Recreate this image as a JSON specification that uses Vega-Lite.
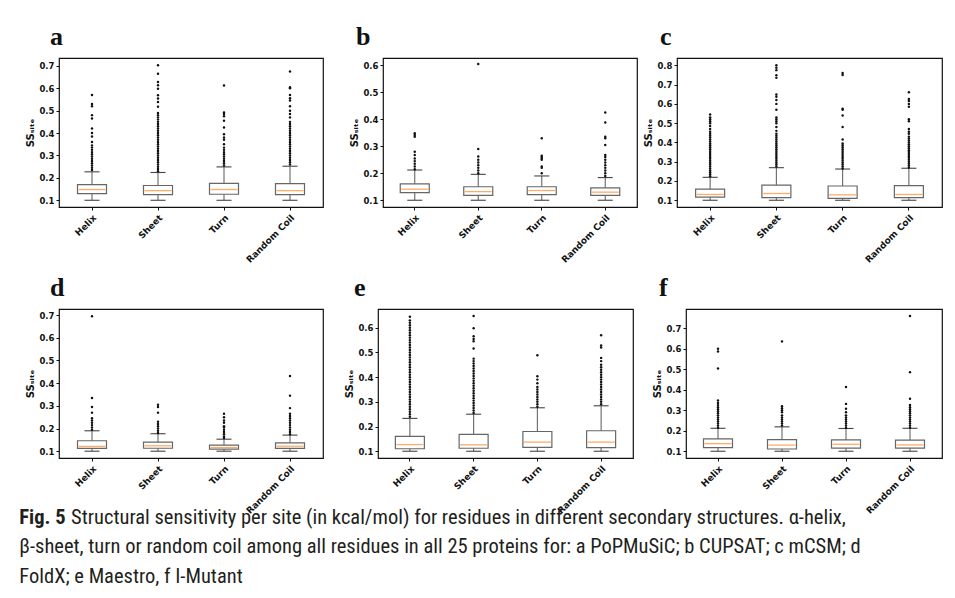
{
  "$schema": "https://vega.github.io/schema/vega-lite/v6.json",
  "padding": {"left": 19, "top": 23, "right": 5, "bottom": 5},
  "background": "white",
  "datasets": {
    "boxes": [
      {"p":"a","s":"Helix","lo":0.1,"q1":0.130,"med":0.148,"q3":0.170,"hi":0.227},
      {"p":"a","s":"Sheet","lo":0.1,"q1":0.125,"med":0.143,"q3":0.166,"hi":0.224},
      {"p":"a","s":"Turn","lo":0.1,"q1":0.127,"med":0.148,"q3":0.175,"hi":0.249},
      {"p":"a","s":"Random Coil","lo":0.1,"q1":0.125,"med":0.143,"q3":0.174,"hi":0.252},
      {"p":"b","s":"Helix","lo":0.1,"q1":0.128,"med":0.141,"q3":0.161,"hi":0.212},
      {"p":"b","s":"Sheet","lo":0.1,"q1":0.118,"med":0.132,"q3":0.150,"hi":0.196},
      {"p":"b","s":"Turn","lo":0.1,"q1":0.121,"med":0.136,"q3":0.150,"hi":0.190},
      {"p":"b","s":"Random Coil","lo":0.1,"q1":0.118,"med":0.130,"q3":0.146,"hi":0.184},
      {"p":"c","s":"Helix","lo":0.1,"q1":0.116,"med":0.130,"q3":0.158,"hi":0.219},
      {"p":"c","s":"Sheet","lo":0.1,"q1":0.114,"med":0.135,"q3":0.178,"hi":0.269},
      {"p":"c","s":"Turn","lo":0.1,"q1":0.110,"med":0.128,"q3":0.174,"hi":0.262},
      {"p":"c","s":"Random Coil","lo":0.1,"q1":0.114,"med":0.130,"q3":0.176,"hi":0.266},
      {"p":"d","s":"Helix","lo":0.1,"q1":0.112,"med":0.121,"q3":0.146,"hi":0.190},
      {"p":"d","s":"Sheet","lo":0.1,"q1":0.113,"med":0.124,"q3":0.140,"hi":0.177},
      {"p":"d","s":"Turn","lo":0.1,"q1":0.109,"med":0.116,"q3":0.127,"hi":0.153},
      {"p":"d","s":"Random Coil","lo":0.1,"q1":0.112,"med":0.122,"q3":0.137,"hi":0.171},
      {"p":"e","s":"Helix","lo":0.1,"q1":0.110,"med":0.127,"q3":0.160,"hi":0.233},
      {"p":"e","s":"Sheet","lo":0.1,"q1":0.112,"med":0.126,"q3":0.168,"hi":0.250},
      {"p":"e","s":"Turn","lo":0.1,"q1":0.116,"med":0.137,"q3":0.180,"hi":0.276},
      {"p":"e","s":"Random Coil","lo":0.1,"q1":0.115,"med":0.137,"q3":0.183,"hi":0.284},
      {"p":"f","s":"Helix","lo":0.1,"q1":0.118,"med":0.137,"q3":0.160,"hi":0.212},
      {"p":"f","s":"Sheet","lo":0.1,"q1":0.111,"med":0.130,"q3":0.157,"hi":0.219},
      {"p":"f","s":"Turn","lo":0.1,"q1":0.115,"med":0.134,"q3":0.155,"hi":0.211},
      {"p":"f","s":"Random Coil","lo":0.1,"q1":0.115,"med":0.131,"q3":0.154,"hi":0.212}
    ],
    "out": [
      {"p":"a","s":"Helix","v":0.235},{"p":"a","s":"Helix","v":0.245},{"p":"a","s":"Helix","v":0.255},{"p":"a","s":"Helix","v":0.265},{"p":"a","s":"Helix","v":0.275},{"p":"a","s":"Helix","v":0.285},{"p":"a","s":"Helix","v":0.295},{"p":"a","s":"Helix","v":0.305},{"p":"a","s":"Helix","v":0.315},{"p":"a","s":"Helix","v":0.325},{"p":"a","s":"Helix","v":0.335},{"p":"a","s":"Helix","v":0.345},{"p":"a","s":"Helix","v":0.36},{"p":"a","s":"Helix","v":0.385},{"p":"a","s":"Helix","v":0.40},{"p":"a","s":"Helix","v":0.42},{"p":"a","s":"Helix","v":0.465},{"p":"a","s":"Helix","v":0.48},{"p":"a","s":"Helix","v":0.52},{"p":"a","s":"Helix","v":0.53},{"p":"a","s":"Helix","v":0.57},
      {"p":"a","s":"Sheet","v":0.23},{"p":"a","s":"Sheet","v":0.24},{"p":"a","s":"Sheet","v":0.25},{"p":"a","s":"Sheet","v":0.26},{"p":"a","s":"Sheet","v":0.27},{"p":"a","s":"Sheet","v":0.28},{"p":"a","s":"Sheet","v":0.29},{"p":"a","s":"Sheet","v":0.30},{"p":"a","s":"Sheet","v":0.31},{"p":"a","s":"Sheet","v":0.32},{"p":"a","s":"Sheet","v":0.33},{"p":"a","s":"Sheet","v":0.34},{"p":"a","s":"Sheet","v":0.35},{"p":"a","s":"Sheet","v":0.36},{"p":"a","s":"Sheet","v":0.37},{"p":"a","s":"Sheet","v":0.38},{"p":"a","s":"Sheet","v":0.39},{"p":"a","s":"Sheet","v":0.40},{"p":"a","s":"Sheet","v":0.41},{"p":"a","s":"Sheet","v":0.42},{"p":"a","s":"Sheet","v":0.43},{"p":"a","s":"Sheet","v":0.44},{"p":"a","s":"Sheet","v":0.45},{"p":"a","s":"Sheet","v":0.46},{"p":"a","s":"Sheet","v":0.47},{"p":"a","s":"Sheet","v":0.48},{"p":"a","s":"Sheet","v":0.49},{"p":"a","s":"Sheet","v":0.517},{"p":"a","s":"Sheet","v":0.539},{"p":"a","s":"Sheet","v":0.554},{"p":"a","s":"Sheet","v":0.569},{"p":"a","s":"Sheet","v":0.598},{"p":"a","s":"Sheet","v":0.613},{"p":"a","s":"Sheet","v":0.628},{"p":"a","s":"Sheet","v":0.665},{"p":"a","s":"Sheet","v":0.703},
      {"p":"a","s":"Turn","v":0.255},{"p":"a","s":"Turn","v":0.265},{"p":"a","s":"Turn","v":0.275},{"p":"a","s":"Turn","v":0.285},{"p":"a","s":"Turn","v":0.295},{"p":"a","s":"Turn","v":0.305},{"p":"a","s":"Turn","v":0.315},{"p":"a","s":"Turn","v":0.325},{"p":"a","s":"Turn","v":0.335},{"p":"a","s":"Turn","v":0.35},{"p":"a","s":"Turn","v":0.37},{"p":"a","s":"Turn","v":0.38},{"p":"a","s":"Turn","v":0.395},{"p":"a","s":"Turn","v":0.425},{"p":"a","s":"Turn","v":0.455},{"p":"a","s":"Turn","v":0.475},{"p":"a","s":"Turn","v":0.485},{"p":"a","s":"Turn","v":0.492},{"p":"a","s":"Turn","v":0.612},
      {"p":"a","s":"Random Coil","v":0.26},{"p":"a","s":"Random Coil","v":0.27},{"p":"a","s":"Random Coil","v":0.28},{"p":"a","s":"Random Coil","v":0.29},{"p":"a","s":"Random Coil","v":0.30},{"p":"a","s":"Random Coil","v":0.31},{"p":"a","s":"Random Coil","v":0.32},{"p":"a","s":"Random Coil","v":0.33},{"p":"a","s":"Random Coil","v":0.34},{"p":"a","s":"Random Coil","v":0.35},{"p":"a","s":"Random Coil","v":0.36},{"p":"a","s":"Random Coil","v":0.37},{"p":"a","s":"Random Coil","v":0.38},{"p":"a","s":"Random Coil","v":0.39},{"p":"a","s":"Random Coil","v":0.40},{"p":"a","s":"Random Coil","v":0.41},{"p":"a","s":"Random Coil","v":0.42},{"p":"a","s":"Random Coil","v":0.43},{"p":"a","s":"Random Coil","v":0.44},{"p":"a","s":"Random Coil","v":0.45},{"p":"a","s":"Random Coil","v":0.47},{"p":"a","s":"Random Coil","v":0.485},{"p":"a","s":"Random Coil","v":0.50},{"p":"a","s":"Random Coil","v":0.52},{"p":"a","s":"Random Coil","v":0.545},{"p":"a","s":"Random Coil","v":0.555},{"p":"a","s":"Random Coil","v":0.57},{"p":"a","s":"Random Coil","v":0.60},{"p":"a","s":"Random Coil","v":0.605},{"p":"a","s":"Random Coil","v":0.675},
      {"p":"b","s":"Helix","v":0.215},{"p":"b","s":"Helix","v":0.225},{"p":"b","s":"Helix","v":0.235},{"p":"b","s":"Helix","v":0.245},{"p":"b","s":"Helix","v":0.255},{"p":"b","s":"Helix","v":0.268},{"p":"b","s":"Helix","v":0.28},{"p":"b","s":"Helix","v":0.335},{"p":"b","s":"Helix","v":0.342},{"p":"b","s":"Helix","v":0.348},
      {"p":"b","s":"Sheet","v":0.20},{"p":"b","s":"Sheet","v":0.21},{"p":"b","s":"Sheet","v":0.22},{"p":"b","s":"Sheet","v":0.23},{"p":"b","s":"Sheet","v":0.24},{"p":"b","s":"Sheet","v":0.25},{"p":"b","s":"Sheet","v":0.262},{"p":"b","s":"Sheet","v":0.29},{"p":"b","s":"Sheet","v":0.605},
      {"p":"b","s":"Turn","v":0.20},{"p":"b","s":"Turn","v":0.22},{"p":"b","s":"Turn","v":0.225},{"p":"b","s":"Turn","v":0.25},{"p":"b","s":"Turn","v":0.255},{"p":"b","s":"Turn","v":0.26},{"p":"b","s":"Turn","v":0.265},{"p":"b","s":"Turn","v":0.33},
      {"p":"b","s":"Random Coil","v":0.19},{"p":"b","s":"Random Coil","v":0.20},{"p":"b","s":"Random Coil","v":0.21},{"p":"b","s":"Random Coil","v":0.22},{"p":"b","s":"Random Coil","v":0.23},{"p":"b","s":"Random Coil","v":0.24},{"p":"b","s":"Random Coil","v":0.25},{"p":"b","s":"Random Coil","v":0.26},{"p":"b","s":"Random Coil","v":0.268},{"p":"b","s":"Random Coil","v":0.305},{"p":"b","s":"Random Coil","v":0.33},{"p":"b","s":"Random Coil","v":0.335},{"p":"b","s":"Random Coil","v":0.388},{"p":"b","s":"Random Coil","v":0.425},
      {"p":"c","s":"Helix","v":0.225},{"p":"c","s":"Helix","v":0.235},{"p":"c","s":"Helix","v":0.245},{"p":"c","s":"Helix","v":0.255},{"p":"c","s":"Helix","v":0.265},{"p":"c","s":"Helix","v":0.275},{"p":"c","s":"Helix","v":0.285},{"p":"c","s":"Helix","v":0.295},{"p":"c","s":"Helix","v":0.305},{"p":"c","s":"Helix","v":0.315},{"p":"c","s":"Helix","v":0.325},{"p":"c","s":"Helix","v":0.335},{"p":"c","s":"Helix","v":0.345},{"p":"c","s":"Helix","v":0.355},{"p":"c","s":"Helix","v":0.365},{"p":"c","s":"Helix","v":0.375},{"p":"c","s":"Helix","v":0.385},{"p":"c","s":"Helix","v":0.395},{"p":"c","s":"Helix","v":0.405},{"p":"c","s":"Helix","v":0.415},{"p":"c","s":"Helix","v":0.425},{"p":"c","s":"Helix","v":0.435},{"p":"c","s":"Helix","v":0.445},{"p":"c","s":"Helix","v":0.455},{"p":"c","s":"Helix","v":0.47},{"p":"c","s":"Helix","v":0.485},{"p":"c","s":"Helix","v":0.50},{"p":"c","s":"Helix","v":0.51},{"p":"c","s":"Helix","v":0.52},{"p":"c","s":"Helix","v":0.53},{"p":"c","s":"Helix","v":0.545},
      {"p":"c","s":"Sheet","v":0.275},{"p":"c","s":"Sheet","v":0.285},{"p":"c","s":"Sheet","v":0.295},{"p":"c","s":"Sheet","v":0.305},{"p":"c","s":"Sheet","v":0.315},{"p":"c","s":"Sheet","v":0.325},{"p":"c","s":"Sheet","v":0.335},{"p":"c","s":"Sheet","v":0.345},{"p":"c","s":"Sheet","v":0.355},{"p":"c","s":"Sheet","v":0.365},{"p":"c","s":"Sheet","v":0.375},{"p":"c","s":"Sheet","v":0.385},{"p":"c","s":"Sheet","v":0.395},{"p":"c","s":"Sheet","v":0.405},{"p":"c","s":"Sheet","v":0.415},{"p":"c","s":"Sheet","v":0.425},{"p":"c","s":"Sheet","v":0.435},{"p":"c","s":"Sheet","v":0.445},{"p":"c","s":"Sheet","v":0.46},{"p":"c","s":"Sheet","v":0.48},{"p":"c","s":"Sheet","v":0.50},{"p":"c","s":"Sheet","v":0.51},{"p":"c","s":"Sheet","v":0.52},{"p":"c","s":"Sheet","v":0.53},{"p":"c","s":"Sheet","v":0.57},{"p":"c","s":"Sheet","v":0.60},{"p":"c","s":"Sheet","v":0.62},{"p":"c","s":"Sheet","v":0.637},{"p":"c","s":"Sheet","v":0.649},{"p":"c","s":"Sheet","v":0.735},{"p":"c","s":"Sheet","v":0.749},{"p":"c","s":"Sheet","v":0.775},{"p":"c","s":"Sheet","v":0.787},{"p":"c","s":"Sheet","v":0.80},
      {"p":"c","s":"Turn","v":0.265},{"p":"c","s":"Turn","v":0.275},{"p":"c","s":"Turn","v":0.285},{"p":"c","s":"Turn","v":0.295},{"p":"c","s":"Turn","v":0.305},{"p":"c","s":"Turn","v":0.315},{"p":"c","s":"Turn","v":0.325},{"p":"c","s":"Turn","v":0.335},{"p":"c","s":"Turn","v":0.345},{"p":"c","s":"Turn","v":0.355},{"p":"c","s":"Turn","v":0.365},{"p":"c","s":"Turn","v":0.375},{"p":"c","s":"Turn","v":0.385},{"p":"c","s":"Turn","v":0.395},{"p":"c","s":"Turn","v":0.415},{"p":"c","s":"Turn","v":0.48},{"p":"c","s":"Turn","v":0.54},{"p":"c","s":"Turn","v":0.57},{"p":"c","s":"Turn","v":0.575},{"p":"c","s":"Turn","v":0.75},{"p":"c","s":"Turn","v":0.76},
      {"p":"c","s":"Random Coil","v":0.27},{"p":"c","s":"Random Coil","v":0.28},{"p":"c","s":"Random Coil","v":0.29},{"p":"c","s":"Random Coil","v":0.30},{"p":"c","s":"Random Coil","v":0.31},{"p":"c","s":"Random Coil","v":0.32},{"p":"c","s":"Random Coil","v":0.33},{"p":"c","s":"Random Coil","v":0.34},{"p":"c","s":"Random Coil","v":0.35},{"p":"c","s":"Random Coil","v":0.36},{"p":"c","s":"Random Coil","v":0.37},{"p":"c","s":"Random Coil","v":0.38},{"p":"c","s":"Random Coil","v":0.39},{"p":"c","s":"Random Coil","v":0.40},{"p":"c","s":"Random Coil","v":0.41},{"p":"c","s":"Random Coil","v":0.42},{"p":"c","s":"Random Coil","v":0.43},{"p":"c","s":"Random Coil","v":0.445},{"p":"c","s":"Random Coil","v":0.455},{"p":"c","s":"Random Coil","v":0.47},{"p":"c","s":"Random Coil","v":0.51},{"p":"c","s":"Random Coil","v":0.52},{"p":"c","s":"Random Coil","v":0.585},{"p":"c","s":"Random Coil","v":0.60},{"p":"c","s":"Random Coil","v":0.615},{"p":"c","s":"Random Coil","v":0.625},{"p":"c","s":"Random Coil","v":0.66},
      {"p":"d","s":"Helix","v":0.195},{"p":"d","s":"Helix","v":0.205},{"p":"d","s":"Helix","v":0.215},{"p":"d","s":"Helix","v":0.225},{"p":"d","s":"Helix","v":0.235},{"p":"d","s":"Helix","v":0.245},{"p":"d","s":"Helix","v":0.27},{"p":"d","s":"Helix","v":0.295},{"p":"d","s":"Helix","v":0.335},{"p":"d","s":"Helix","v":0.695},
      {"p":"d","s":"Sheet","v":0.18},{"p":"d","s":"Sheet","v":0.19},{"p":"d","s":"Sheet","v":0.20},{"p":"d","s":"Sheet","v":0.21},{"p":"d","s":"Sheet","v":0.22},{"p":"d","s":"Sheet","v":0.23},{"p":"d","s":"Sheet","v":0.27},{"p":"d","s":"Sheet","v":0.295},{"p":"d","s":"Sheet","v":0.305},
      {"p":"d","s":"Turn","v":0.158},{"p":"d","s":"Turn","v":0.165},{"p":"d","s":"Turn","v":0.175},{"p":"d","s":"Turn","v":0.185},{"p":"d","s":"Turn","v":0.195},{"p":"d","s":"Turn","v":0.205},{"p":"d","s":"Turn","v":0.21},{"p":"d","s":"Turn","v":0.225},{"p":"d","s":"Turn","v":0.235},{"p":"d","s":"Turn","v":0.25},{"p":"d","s":"Turn","v":0.265},
      {"p":"d","s":"Random Coil","v":0.175},{"p":"d","s":"Random Coil","v":0.185},{"p":"d","s":"Random Coil","v":0.195},{"p":"d","s":"Random Coil","v":0.205},{"p":"d","s":"Random Coil","v":0.215},{"p":"d","s":"Random Coil","v":0.225},{"p":"d","s":"Random Coil","v":0.235},{"p":"d","s":"Random Coil","v":0.245},{"p":"d","s":"Random Coil","v":0.255},{"p":"d","s":"Random Coil","v":0.265},{"p":"d","s":"Random Coil","v":0.29},{"p":"d","s":"Random Coil","v":0.345},{"p":"d","s":"Random Coil","v":0.432},
      {"p":"e","s":"Helix","v":0.24},{"p":"e","s":"Helix","v":0.25},{"p":"e","s":"Helix","v":0.26},{"p":"e","s":"Helix","v":0.27},{"p":"e","s":"Helix","v":0.28},{"p":"e","s":"Helix","v":0.29},{"p":"e","s":"Helix","v":0.30},{"p":"e","s":"Helix","v":0.31},{"p":"e","s":"Helix","v":0.32},{"p":"e","s":"Helix","v":0.33},{"p":"e","s":"Helix","v":0.34},{"p":"e","s":"Helix","v":0.35},{"p":"e","s":"Helix","v":0.36},{"p":"e","s":"Helix","v":0.37},{"p":"e","s":"Helix","v":0.38},{"p":"e","s":"Helix","v":0.39},{"p":"e","s":"Helix","v":0.40},{"p":"e","s":"Helix","v":0.41},{"p":"e","s":"Helix","v":0.42},{"p":"e","s":"Helix","v":0.43},{"p":"e","s":"Helix","v":0.44},{"p":"e","s":"Helix","v":0.45},{"p":"e","s":"Helix","v":0.46},{"p":"e","s":"Helix","v":0.47},{"p":"e","s":"Helix","v":0.48},{"p":"e","s":"Helix","v":0.49},{"p":"e","s":"Helix","v":0.50},{"p":"e","s":"Helix","v":0.51},{"p":"e","s":"Helix","v":0.52},{"p":"e","s":"Helix","v":0.53},{"p":"e","s":"Helix","v":0.54},{"p":"e","s":"Helix","v":0.55},{"p":"e","s":"Helix","v":0.56},{"p":"e","s":"Helix","v":0.57},{"p":"e","s":"Helix","v":0.58},{"p":"e","s":"Helix","v":0.59},{"p":"e","s":"Helix","v":0.60},{"p":"e","s":"Helix","v":0.61},{"p":"e","s":"Helix","v":0.62},{"p":"e","s":"Helix","v":0.63},{"p":"e","s":"Helix","v":0.645},
      {"p":"e","s":"Sheet","v":0.255},{"p":"e","s":"Sheet","v":0.265},{"p":"e","s":"Sheet","v":0.275},{"p":"e","s":"Sheet","v":0.285},{"p":"e","s":"Sheet","v":0.295},{"p":"e","s":"Sheet","v":0.305},{"p":"e","s":"Sheet","v":0.315},{"p":"e","s":"Sheet","v":0.325},{"p":"e","s":"Sheet","v":0.335},{"p":"e","s":"Sheet","v":0.345},{"p":"e","s":"Sheet","v":0.355},{"p":"e","s":"Sheet","v":0.365},{"p":"e","s":"Sheet","v":0.375},{"p":"e","s":"Sheet","v":0.385},{"p":"e","s":"Sheet","v":0.395},{"p":"e","s":"Sheet","v":0.405},{"p":"e","s":"Sheet","v":0.415},{"p":"e","s":"Sheet","v":0.425},{"p":"e","s":"Sheet","v":0.435},{"p":"e","s":"Sheet","v":0.445},{"p":"e","s":"Sheet","v":0.455},{"p":"e","s":"Sheet","v":0.465},{"p":"e","s":"Sheet","v":0.475},{"p":"e","s":"Sheet","v":0.516},{"p":"e","s":"Sheet","v":0.545},{"p":"e","s":"Sheet","v":0.555},{"p":"e","s":"Sheet","v":0.566},{"p":"e","s":"Sheet","v":0.598},{"p":"e","s":"Sheet","v":0.648},
      {"p":"e","s":"Turn","v":0.28},{"p":"e","s":"Turn","v":0.29},{"p":"e","s":"Turn","v":0.30},{"p":"e","s":"Turn","v":0.31},{"p":"e","s":"Turn","v":0.32},{"p":"e","s":"Turn","v":0.33},{"p":"e","s":"Turn","v":0.34},{"p":"e","s":"Turn","v":0.35},{"p":"e","s":"Turn","v":0.36},{"p":"e","s":"Turn","v":0.375},{"p":"e","s":"Turn","v":0.39},{"p":"e","s":"Turn","v":0.404},{"p":"e","s":"Turn","v":0.489},
      {"p":"e","s":"Random Coil","v":0.29},{"p":"e","s":"Random Coil","v":0.30},{"p":"e","s":"Random Coil","v":0.31},{"p":"e","s":"Random Coil","v":0.32},{"p":"e","s":"Random Coil","v":0.33},{"p":"e","s":"Random Coil","v":0.34},{"p":"e","s":"Random Coil","v":0.35},{"p":"e","s":"Random Coil","v":0.36},{"p":"e","s":"Random Coil","v":0.37},{"p":"e","s":"Random Coil","v":0.38},{"p":"e","s":"Random Coil","v":0.39},{"p":"e","s":"Random Coil","v":0.40},{"p":"e","s":"Random Coil","v":0.41},{"p":"e","s":"Random Coil","v":0.42},{"p":"e","s":"Random Coil","v":0.43},{"p":"e","s":"Random Coil","v":0.44},{"p":"e","s":"Random Coil","v":0.45},{"p":"e","s":"Random Coil","v":0.465},{"p":"e","s":"Random Coil","v":0.478},{"p":"e","s":"Random Coil","v":0.52},{"p":"e","s":"Random Coil","v":0.528},{"p":"e","s":"Random Coil","v":0.57},
      {"p":"f","s":"Helix","v":0.215},{"p":"f","s":"Helix","v":0.225},{"p":"f","s":"Helix","v":0.235},{"p":"f","s":"Helix","v":0.245},{"p":"f","s":"Helix","v":0.255},{"p":"f","s":"Helix","v":0.265},{"p":"f","s":"Helix","v":0.275},{"p":"f","s":"Helix","v":0.285},{"p":"f","s":"Helix","v":0.295},{"p":"f","s":"Helix","v":0.305},{"p":"f","s":"Helix","v":0.315},{"p":"f","s":"Helix","v":0.325},{"p":"f","s":"Helix","v":0.335},{"p":"f","s":"Helix","v":0.348},{"p":"f","s":"Helix","v":0.504},{"p":"f","s":"Helix","v":0.587},{"p":"f","s":"Helix","v":0.60},
      {"p":"f","s":"Sheet","v":0.225},{"p":"f","s":"Sheet","v":0.235},{"p":"f","s":"Sheet","v":0.245},{"p":"f","s":"Sheet","v":0.255},{"p":"f","s":"Sheet","v":0.265},{"p":"f","s":"Sheet","v":0.275},{"p":"f","s":"Sheet","v":0.29},{"p":"f","s":"Sheet","v":0.30},{"p":"f","s":"Sheet","v":0.31},{"p":"f","s":"Sheet","v":0.32},{"p":"f","s":"Sheet","v":0.636},
      {"p":"f","s":"Turn","v":0.215},{"p":"f","s":"Turn","v":0.225},{"p":"f","s":"Turn","v":0.235},{"p":"f","s":"Turn","v":0.245},{"p":"f","s":"Turn","v":0.255},{"p":"f","s":"Turn","v":0.265},{"p":"f","s":"Turn","v":0.275},{"p":"f","s":"Turn","v":0.29},{"p":"f","s":"Turn","v":0.307},{"p":"f","s":"Turn","v":0.331},{"p":"f","s":"Turn","v":0.413},
      {"p":"f","s":"Random Coil","v":0.215},{"p":"f","s":"Random Coil","v":0.225},{"p":"f","s":"Random Coil","v":0.235},{"p":"f","s":"Random Coil","v":0.245},{"p":"f","s":"Random Coil","v":0.255},{"p":"f","s":"Random Coil","v":0.265},{"p":"f","s":"Random Coil","v":0.275},{"p":"f","s":"Random Coil","v":0.285},{"p":"f","s":"Random Coil","v":0.295},{"p":"f","s":"Random Coil","v":0.305},{"p":"f","s":"Random Coil","v":0.315},{"p":"f","s":"Random Coil","v":0.326},{"p":"f","s":"Random Coil","v":0.356},{"p":"f","s":"Random Coil","v":0.486},{"p":"f","s":"Random Coil","v":0.76}
    ]
  },
  "config": {
    "view": {"stroke": "#111", "strokeWidth": 1.2},
    "axis": {"domain": false, "grid": false, "labelOverlap": false, "labelSeparation": 0, "tickColor": "#111", "tickSize": 3, "tickWidth": 1, "labelColor": "#111", "labelFont": "DejaVu Sans", "labelFontWeight": "bold", "titleFont": "DejaVu Sans", "titleFontWeight": "bold", "titleFontSize": 10, "titleColor": "#111"},
    "axisX": {"labelFontSize": 9, "labelAngle": -45, "labelPadding": 3},
    "axisY": {"labelFontSize": 8.5, "labelPadding": 2, "titlePadding": 3, "labelOverlap": false},
    "title": {"font": "Liberation Serif", "fontSize": 26, "fontWeight": "bold", "anchor": "start", "color": "#111", "baseline": "alphabetic", "offset": 8, "frame": "group"}
  },
  "title": {
    "text": "Fig. 5",
    "subtitle": ["\u200d\u00a0\u00a0\u00a0\u00a0\u00a0\u00a0\u00a0\u00a0\u00a0\u00a0\u00a0Structural sensitivity per site (in kcal/mol) for residues in different secondary structures. α-helix,", "β-sheet, turn or random coil among all residues in all 25 proteins for: a PoPMuSiC; b CUPSAT; c mCSM; d", "FoldX; e Maestro, f I-Mutant"],
    "orient": "bottom", "anchor": "start", "frame": "bounds", "baseline": "top",
    "font": "Roboto Condensed", "fontSize": 20.5, "fontWeight": "bold", "color": "#231f20",
    "subtitleFont": "Roboto Condensed", "subtitleFontSize": 20.5, "subtitleFontWeight": "normal", "subtitleColor": "#231f20", "subtitleLineHeight": 29.5, "subtitlePadding": -20.5,
    "offset": -8, "dx": -6
  },
  "spacing": 9,
  "vconcat": [
    {"spacing": 25, "hconcat": [
      {"title": {"text": "a", "dx": -9}, "width": 264, "height": 149,
       "encoding": {"x": {"field": "s", "type": "nominal", "title": null, "scale": {"domain": ["Helix","Sheet","Turn","Random Coil"], "paddingInner": 0, "paddingOuter": 0}}},
       "layer": [
        {"data": {"name": "boxes"}, "transform": [{"filter": "datum.p == 'a'"}], "mark": {"type": "rule", "color": "#666", "strokeWidth": 1.1}, "encoding": {"y": {"field": "lo", "type": "quantitative", "title": "SSₛᵢₜₑ", "scale": {"domain": [0.070, 0.735], "nice": false, "zero": false}, "axis": {"values": [0.1,0.2,0.3,0.4,0.5,0.6,0.7], "format": ".1f", "labelOverlap": false}}, "y2": {"field": "hi"}}},
        {"data": {"name": "boxes"}, "transform": [{"filter": "datum.p == 'a'"}], "mark": {"type": "bar", "size": 29, "fill": "white", "stroke": "#666", "strokeWidth": 1.2}, "encoding": {"y": {"field": "q1", "type": "quantitative", "title": "SSₛᵢₜₑ", "scale": {"domain": [0.070, 0.735], "nice": false, "zero": false}, "axis": {"values": [0.1,0.2,0.3,0.4,0.5,0.6,0.7], "format": ".1f", "labelOverlap": false}}, "y2": {"field": "q3"}}},
        {"data": {"name": "boxes"}, "transform": [{"filter": "datum.p == 'a'"}], "mark": {"type": "tick", "color": "#ffab66", "size": 27, "thickness": 1.3, "opacity": 1}, "encoding": {"y": {"field": "med", "type": "quantitative", "title": "SSₛᵢₜₑ", "scale": {"domain": [0.070, 0.735], "nice": false, "zero": false}, "axis": {"values": [0.1,0.2,0.3,0.4,0.5,0.6,0.7], "format": ".1f", "labelOverlap": false}}}},
        {"data": {"name": "boxes"}, "transform": [{"filter": "datum.p == 'a'"}], "mark": {"type": "tick", "color": "#444", "size": 15, "thickness": 1.1, "opacity": 1}, "encoding": {"y": {"field": "lo", "type": "quantitative", "title": "SSₛᵢₜₑ", "scale": {"domain": [0.070, 0.735], "nice": false, "zero": false}, "axis": {"values": [0.1,0.2,0.3,0.4,0.5,0.6,0.7], "format": ".1f", "labelOverlap": false}}}},
        {"data": {"name": "boxes"}, "transform": [{"filter": "datum.p == 'a'"}], "mark": {"type": "tick", "color": "#444", "size": 15, "thickness": 1.1, "opacity": 1}, "encoding": {"y": {"field": "hi", "type": "quantitative", "title": "SSₛᵢₜₑ", "scale": {"domain": [0.070, 0.735], "nice": false, "zero": false}, "axis": {"values": [0.1,0.2,0.3,0.4,0.5,0.6,0.7], "format": ".1f", "labelOverlap": false}}}},
        {"data": {"name": "out"}, "transform": [{"filter": "datum.p == 'a'"}], "mark": {"type": "circle", "size": 6, "color": "#111", "opacity": 1}, "encoding": {"y": {"field": "v", "type": "quantitative", "title": "SSₛᵢₜₑ", "scale": {"domain": [0.070, 0.735], "nice": false, "zero": false}, "axis": {"values": [0.1,0.2,0.3,0.4,0.5,0.6,0.7], "format": ".1f", "labelOverlap": false}}}}
       ]},
      {"spacing": 5, "hconcat": [
        {"title": {"text": "b", "dx": -27}, "width": 254, "height": 149,
         "encoding": {"x": {"field": "s", "type": "nominal", "title": null, "scale": {"domain": ["Helix","Sheet","Turn","Random Coil"], "paddingInner": 0, "paddingOuter": 0}}},
         "layer": [
          {"data": {"name": "boxes"}, "transform": [{"filter": "datum.p == 'b'"}], "mark": {"type": "rule", "color": "#666", "strokeWidth": 1.1}, "encoding": {"y": {"field": "lo", "type": "quantitative", "title": "SSₛᵢₜₑ", "scale": {"domain": [0.075, 0.627], "nice": false, "zero": false}, "axis": {"values": [0.1,0.2,0.3,0.4,0.5,0.6], "format": ".1f", "labelOverlap": false}}, "y2": {"field": "hi"}}},
          {"data": {"name": "boxes"}, "transform": [{"filter": "datum.p == 'b'"}], "mark": {"type": "bar", "size": 29, "fill": "white", "stroke": "#666", "strokeWidth": 1.2}, "encoding": {"y": {"field": "q1", "type": "quantitative", "title": "SSₛᵢₜₑ", "scale": {"domain": [0.075, 0.627], "nice": false, "zero": false}, "axis": {"values": [0.1,0.2,0.3,0.4,0.5,0.6], "format": ".1f", "labelOverlap": false}}, "y2": {"field": "q3"}}},
          {"data": {"name": "boxes"}, "transform": [{"filter": "datum.p == 'b'"}], "mark": {"type": "tick", "color": "#ffab66", "size": 27, "thickness": 1.3, "opacity": 1}, "encoding": {"y": {"field": "med", "type": "quantitative", "title": "SSₛᵢₜₑ", "scale": {"domain": [0.075, 0.627], "nice": false, "zero": false}, "axis": {"values": [0.1,0.2,0.3,0.4,0.5,0.6], "format": ".1f", "labelOverlap": false}}}},
          {"data": {"name": "boxes"}, "transform": [{"filter": "datum.p == 'b'"}], "mark": {"type": "tick", "color": "#444", "size": 15, "thickness": 1.1, "opacity": 1}, "encoding": {"y": {"field": "lo", "type": "quantitative", "title": "SSₛᵢₜₑ", "scale": {"domain": [0.075, 0.627], "nice": false, "zero": false}, "axis": {"values": [0.1,0.2,0.3,0.4,0.5,0.6], "format": ".1f", "labelOverlap": false}}}},
          {"data": {"name": "boxes"}, "transform": [{"filter": "datum.p == 'b'"}], "mark": {"type": "tick", "color": "#444", "size": 15, "thickness": 1.1, "opacity": 1}, "encoding": {"y": {"field": "hi", "type": "quantitative", "title": "SSₛᵢₜₑ", "scale": {"domain": [0.075, 0.627], "nice": false, "zero": false}, "axis": {"values": [0.1,0.2,0.3,0.4,0.5,0.6], "format": ".1f", "labelOverlap": false}}}},
          {"data": {"name": "out"}, "transform": [{"filter": "datum.p == 'b'"}], "mark": {"type": "circle", "size": 6, "color": "#111", "opacity": 1}, "encoding": {"y": {"field": "v", "type": "quantitative", "title": "SSₛᵢₜₑ", "scale": {"domain": [0.075, 0.627], "nice": false, "zero": false}, "axis": {"values": [0.1,0.2,0.3,0.4,0.5,0.6], "format": ".1f", "labelOverlap": false}}}}
         ]},
        {"title": {"text": "c", "dx": -17}, "width": 265, "height": 149,
         "encoding": {"x": {"field": "s", "type": "nominal", "title": null, "scale": {"domain": ["Helix","Sheet","Turn","Random Coil"], "paddingInner": 0, "paddingOuter": 0}}},
         "layer": [
          {"data": {"name": "boxes"}, "transform": [{"filter": "datum.p == 'c'"}], "mark": {"type": "rule", "color": "#666", "strokeWidth": 1.1}, "encoding": {"y": {"field": "lo", "type": "quantitative", "title": "SSₛᵢₜₑ", "scale": {"domain": [0.065, 0.838], "nice": false, "zero": false}, "axis": {"values": [0.1,0.2,0.3,0.4,0.5,0.6,0.7,0.8], "format": ".1f", "labelOverlap": false}}, "y2": {"field": "hi"}}},
          {"data": {"name": "boxes"}, "transform": [{"filter": "datum.p == 'c'"}], "mark": {"type": "bar", "size": 29, "fill": "white", "stroke": "#666", "strokeWidth": 1.2}, "encoding": {"y": {"field": "q1", "type": "quantitative", "title": "SSₛᵢₜₑ", "scale": {"domain": [0.065, 0.838], "nice": false, "zero": false}, "axis": {"values": [0.1,0.2,0.3,0.4,0.5,0.6,0.7,0.8], "format": ".1f", "labelOverlap": false}}, "y2": {"field": "q3"}}},
          {"data": {"name": "boxes"}, "transform": [{"filter": "datum.p == 'c'"}], "mark": {"type": "tick", "color": "#ffab66", "size": 27, "thickness": 1.3, "opacity": 1}, "encoding": {"y": {"field": "med", "type": "quantitative", "title": "SSₛᵢₜₑ", "scale": {"domain": [0.065, 0.838], "nice": false, "zero": false}, "axis": {"values": [0.1,0.2,0.3,0.4,0.5,0.6,0.7,0.8], "format": ".1f", "labelOverlap": false}}}},
          {"data": {"name": "boxes"}, "transform": [{"filter": "datum.p == 'c'"}], "mark": {"type": "tick", "color": "#444", "size": 15, "thickness": 1.1, "opacity": 1}, "encoding": {"y": {"field": "lo", "type": "quantitative", "title": "SSₛᵢₜₑ", "scale": {"domain": [0.065, 0.838], "nice": false, "zero": false}, "axis": {"values": [0.1,0.2,0.3,0.4,0.5,0.6,0.7,0.8], "format": ".1f", "labelOverlap": false}}}},
          {"data": {"name": "boxes"}, "transform": [{"filter": "datum.p == 'c'"}], "mark": {"type": "tick", "color": "#444", "size": 15, "thickness": 1.1, "opacity": 1}, "encoding": {"y": {"field": "hi", "type": "quantitative", "title": "SSₛᵢₜₑ", "scale": {"domain": [0.065, 0.838], "nice": false, "zero": false}, "axis": {"values": [0.1,0.2,0.3,0.4,0.5,0.6,0.7,0.8], "format": ".1f", "labelOverlap": false}}}},
          {"data": {"name": "out"}, "transform": [{"filter": "datum.p == 'c'"}], "mark": {"type": "circle", "size": 6, "color": "#111", "opacity": 1}, "encoding": {"y": {"field": "v", "type": "quantitative", "title": "SSₛᵢₜₑ", "scale": {"domain": [0.065, 0.838], "nice": false, "zero": false}, "axis": {"values": [0.1,0.2,0.3,0.4,0.5,0.6,0.7,0.8], "format": ".1f", "labelOverlap": false}}}}
         ]}
      ]}
    ]},
    {"spacing": 20, "hconcat": [
      {"title": {"text": "d", "dx": -9}, "width": 264, "height": 149,
       "encoding": {"x": {"field": "s", "type": "nominal", "title": null, "scale": {"domain": ["Helix","Sheet","Turn","Random Coil"], "paddingInner": 0, "paddingOuter": 0}}},
       "layer": [
        {"data": {"name": "boxes"}, "transform": [{"filter": "datum.p == 'd'"}], "mark": {"type": "rule", "color": "#666", "strokeWidth": 1.1}, "encoding": {"y": {"field": "lo", "type": "quantitative", "title": "SSₛᵢₜₑ", "scale": {"domain": [0.070, 0.727], "nice": false, "zero": false}, "axis": {"values": [0.1,0.2,0.3,0.4,0.5,0.6,0.7], "format": ".1f", "labelOverlap": false}}, "y2": {"field": "hi"}}},
        {"data": {"name": "boxes"}, "transform": [{"filter": "datum.p == 'd'"}], "mark": {"type": "bar", "size": 29, "fill": "white", "stroke": "#666", "strokeWidth": 1.2}, "encoding": {"y": {"field": "q1", "type": "quantitative", "title": "SSₛᵢₜₑ", "scale": {"domain": [0.070, 0.727], "nice": false, "zero": false}, "axis": {"values": [0.1,0.2,0.3,0.4,0.5,0.6,0.7], "format": ".1f", "labelOverlap": false}}, "y2": {"field": "q3"}}},
        {"data": {"name": "boxes"}, "transform": [{"filter": "datum.p == 'd'"}], "mark": {"type": "tick", "color": "#ffab66", "size": 27, "thickness": 1.3, "opacity": 1}, "encoding": {"y": {"field": "med", "type": "quantitative", "title": "SSₛᵢₜₑ", "scale": {"domain": [0.070, 0.727], "nice": false, "zero": false}, "axis": {"values": [0.1,0.2,0.3,0.4,0.5,0.6,0.7], "format": ".1f", "labelOverlap": false}}}},
        {"data": {"name": "boxes"}, "transform": [{"filter": "datum.p == 'd'"}], "mark": {"type": "tick", "color": "#444", "size": 15, "thickness": 1.1, "opacity": 1}, "encoding": {"y": {"field": "lo", "type": "quantitative", "title": "SSₛᵢₜₑ", "scale": {"domain": [0.070, 0.727], "nice": false, "zero": false}, "axis": {"values": [0.1,0.2,0.3,0.4,0.5,0.6,0.7], "format": ".1f", "labelOverlap": false}}}},
        {"data": {"name": "boxes"}, "transform": [{"filter": "datum.p == 'd'"}], "mark": {"type": "tick", "color": "#444", "size": 15, "thickness": 1.1, "opacity": 1}, "encoding": {"y": {"field": "hi", "type": "quantitative", "title": "SSₛᵢₜₑ", "scale": {"domain": [0.070, 0.727], "nice": false, "zero": false}, "axis": {"values": [0.1,0.2,0.3,0.4,0.5,0.6,0.7], "format": ".1f", "labelOverlap": false}}}},
        {"data": {"name": "out"}, "transform": [{"filter": "datum.p == 'd'"}], "mark": {"type": "circle", "size": 6, "color": "#111", "opacity": 1}, "encoding": {"y": {"field": "v", "type": "quantitative", "title": "SSₛᵢₜₑ", "scale": {"domain": [0.070, 0.727], "nice": false, "zero": false}, "axis": {"values": [0.1,0.2,0.3,0.4,0.5,0.6,0.7], "format": ".1f", "labelOverlap": false}}}}
       ]},
      {"spacing": 18, "hconcat": [
        {"title": {"text": "e", "dx": -24}, "width": 255, "height": 149,
         "encoding": {"x": {"field": "s", "type": "nominal", "title": null, "scale": {"domain": ["Helix","Sheet","Turn","Random Coil"], "paddingInner": 0, "paddingOuter": 0}}},
         "layer": [
          {"data": {"name": "boxes"}, "transform": [{"filter": "datum.p == 'e'"}], "mark": {"type": "rule", "color": "#666", "strokeWidth": 1.1}, "encoding": {"y": {"field": "lo", "type": "quantitative", "title": "SSₛᵢₜₑ", "scale": {"domain": [0.0726, 0.676], "nice": false, "zero": false}, "axis": {"values": [0.1,0.2,0.3,0.4,0.5,0.6], "format": ".1f", "labelOverlap": false}}, "y2": {"field": "hi"}}},
          {"data": {"name": "boxes"}, "transform": [{"filter": "datum.p == 'e'"}], "mark": {"type": "bar", "size": 29, "fill": "white", "stroke": "#666", "strokeWidth": 1.2}, "encoding": {"y": {"field": "q1", "type": "quantitative", "title": "SSₛᵢₜₑ", "scale": {"domain": [0.0726, 0.676], "nice": false, "zero": false}, "axis": {"values": [0.1,0.2,0.3,0.4,0.5,0.6], "format": ".1f", "labelOverlap": false}}, "y2": {"field": "q3"}}},
          {"data": {"name": "boxes"}, "transform": [{"filter": "datum.p == 'e'"}], "mark": {"type": "tick", "color": "#ffab66", "size": 27, "thickness": 1.3, "opacity": 1}, "encoding": {"y": {"field": "med", "type": "quantitative", "title": "SSₛᵢₜₑ", "scale": {"domain": [0.0726, 0.676], "nice": false, "zero": false}, "axis": {"values": [0.1,0.2,0.3,0.4,0.5,0.6], "format": ".1f", "labelOverlap": false}}}},
          {"data": {"name": "boxes"}, "transform": [{"filter": "datum.p == 'e'"}], "mark": {"type": "tick", "color": "#444", "size": 15, "thickness": 1.1, "opacity": 1}, "encoding": {"y": {"field": "lo", "type": "quantitative", "title": "SSₛᵢₜₑ", "scale": {"domain": [0.0726, 0.676], "nice": false, "zero": false}, "axis": {"values": [0.1,0.2,0.3,0.4,0.5,0.6], "format": ".1f", "labelOverlap": false}}}},
          {"data": {"name": "boxes"}, "transform": [{"filter": "datum.p == 'e'"}], "mark": {"type": "tick", "color": "#444", "size": 15, "thickness": 1.1, "opacity": 1}, "encoding": {"y": {"field": "hi", "type": "quantitative", "title": "SSₛᵢₜₑ", "scale": {"domain": [0.0726, 0.676], "nice": false, "zero": false}, "axis": {"values": [0.1,0.2,0.3,0.4,0.5,0.6], "format": ".1f", "labelOverlap": false}}}},
          {"data": {"name": "out"}, "transform": [{"filter": "datum.p == 'e'"}], "mark": {"type": "circle", "size": 6, "color": "#111", "opacity": 1}, "encoding": {"y": {"field": "v", "type": "quantitative", "title": "SSₛᵢₜₑ", "scale": {"domain": [0.0726, 0.676], "nice": false, "zero": false}, "axis": {"values": [0.1,0.2,0.3,0.4,0.5,0.6], "format": ".1f", "labelOverlap": false}}}}
         ]},
        {"title": {"text": "f", "dx": -27}, "width": 256, "height": 149,
         "encoding": {"x": {"field": "s", "type": "nominal", "title": null, "scale": {"domain": ["Helix","Sheet","Turn","Random Coil"], "paddingInner": 0, "paddingOuter": 0}}},
         "layer": [
          {"data": {"name": "boxes"}, "transform": [{"filter": "datum.p == 'f'"}], "mark": {"type": "rule", "color": "#666", "strokeWidth": 1.1}, "encoding": {"y": {"field": "lo", "type": "quantitative", "title": "SSₛᵢₜₑ", "scale": {"domain": [0.067, 0.794], "nice": false, "zero": false}, "axis": {"values": [0.1,0.2,0.3,0.4,0.5,0.6,0.7], "format": ".1f", "labelOverlap": false}}, "y2": {"field": "hi"}}},
          {"data": {"name": "boxes"}, "transform": [{"filter": "datum.p == 'f'"}], "mark": {"type": "bar", "size": 29, "fill": "white", "stroke": "#666", "strokeWidth": 1.2}, "encoding": {"y": {"field": "q1", "type": "quantitative", "title": "SSₛᵢₜₑ", "scale": {"domain": [0.067, 0.794], "nice": false, "zero": false}, "axis": {"values": [0.1,0.2,0.3,0.4,0.5,0.6,0.7], "format": ".1f", "labelOverlap": false}}, "y2": {"field": "q3"}}},
          {"data": {"name": "boxes"}, "transform": [{"filter": "datum.p == 'f'"}], "mark": {"type": "tick", "color": "#ffab66", "size": 27, "thickness": 1.3, "opacity": 1}, "encoding": {"y": {"field": "med", "type": "quantitative", "title": "SSₛᵢₜₑ", "scale": {"domain": [0.067, 0.794], "nice": false, "zero": false}, "axis": {"values": [0.1,0.2,0.3,0.4,0.5,0.6,0.7], "format": ".1f", "labelOverlap": false}}}},
          {"data": {"name": "boxes"}, "transform": [{"filter": "datum.p == 'f'"}], "mark": {"type": "tick", "color": "#444", "size": 15, "thickness": 1.1, "opacity": 1}, "encoding": {"y": {"field": "lo", "type": "quantitative", "title": "SSₛᵢₜₑ", "scale": {"domain": [0.067, 0.794], "nice": false, "zero": false}, "axis": {"values": [0.1,0.2,0.3,0.4,0.5,0.6,0.7], "format": ".1f", "labelOverlap": false}}}},
          {"data": {"name": "boxes"}, "transform": [{"filter": "datum.p == 'f'"}], "mark": {"type": "tick", "color": "#444", "size": 15, "thickness": 1.1, "opacity": 1}, "encoding": {"y": {"field": "hi", "type": "quantitative", "title": "SSₛᵢₜₑ", "scale": {"domain": [0.067, 0.794], "nice": false, "zero": false}, "axis": {"values": [0.1,0.2,0.3,0.4,0.5,0.6,0.7], "format": ".1f", "labelOverlap": false}}}},
          {"data": {"name": "out"}, "transform": [{"filter": "datum.p == 'f'"}], "mark": {"type": "circle", "size": 6, "color": "#111", "opacity": 1}, "encoding": {"y": {"field": "v", "type": "quantitative", "title": "SSₛᵢₜₑ", "scale": {"domain": [0.067, 0.794], "nice": false, "zero": false}, "axis": {"values": [0.1,0.2,0.3,0.4,0.5,0.6,0.7], "format": ".1f", "labelOverlap": false}}}}
         ]}
      ]}
    ]}
  ]
}
